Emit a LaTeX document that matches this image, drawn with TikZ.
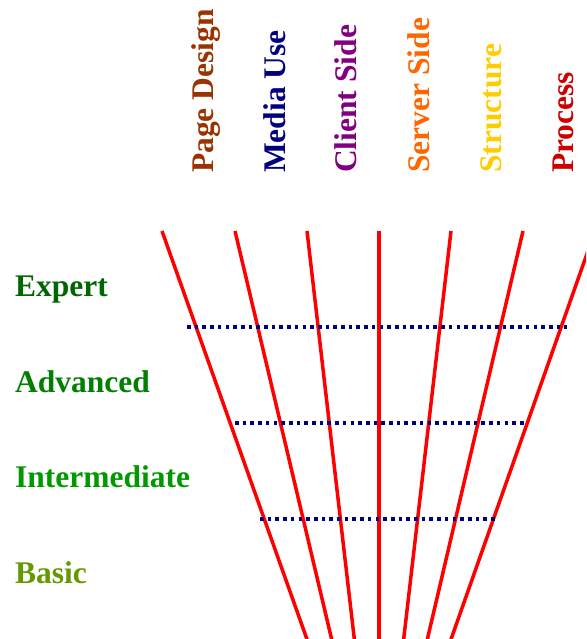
\documentclass[tikz,border=0pt]{standalone}
\usepackage{fontspec}
\setmainfont{Liberation Serif}
\definecolor{cPage}{HTML}{993300}
\definecolor{cMedia}{HTML}{000080}
\definecolor{cClient}{HTML}{800080}
\definecolor{cServer}{HTML}{FF6600}
\definecolor{cStruct}{HTML}{FFCC00}
\definecolor{cProc}{HTML}{CC0000}
\definecolor{cExpert}{HTML}{006600}
\definecolor{cAdv}{HTML}{008000}
\definecolor{cInter}{HTML}{009900}
\definecolor{cBasic}{HTML}{669900}
\definecolor{cDot}{HTML}{000080}
\begin{document}
\begin{tikzpicture}[x=1pt,y=-1pt,
  toplabel/.style={rotate=90,anchor=base west,inner sep=0pt,font=\fontsize{31.5}{31.5}\selectfont\bfseries},
  levellabel/.style={anchor=base west,inner sep=0pt,font=\fontsize{31.5}{31.5}\selectfont\bfseries},
  axisline/.style={draw=red,line width=3.5pt},
  levelline/.style={draw=cDot,line width=3.6pt,dash pattern=on 3.6pt off 4.1pt}]
\useasboundingbox (0,0) rectangle (586,639);
\clip (0,0) rectangle (586,639);
% top labels
\node[toplabel,text=cPage]   (lpage)   at (213,173) {Page Design};
\node[toplabel,text=cMedia]  (lmedia)  at (285,173) {Media Use};
\node[toplabel,text=cClient] (lclient) at (356,173) {Client Side};
\node[toplabel,text=cServer] (lserver) at (429,173) {Server Side};
\node[toplabel,text=cStruct] (lstruct) at (501,173) {Structure};
\node[toplabel,text=cProc]   (lproc)   at (573,173) {Process};
% level labels
\node[levellabel,text=cExpert] (expert) at (15,296) {Expert};
\node[levellabel,text=cAdv]    (adv)    at (15,392) {Advanced};
\node[levellabel,text=cInter]  (inter)  at (15,487) {Intermediate};
\node[levellabel,text=cBasic]  (basic)  at (15,583) {Basic};
% axis lines
\coordinate (t1) at (162,231); \coordinate (b1) at (309,645);
\coordinate (t2) at (235,231); \coordinate (b2) at (333,645);
\coordinate (t3) at (307,231); \coordinate (b3) at (355,645);
\coordinate (t4) at (379,231); \coordinate (b4) at (379,645);
\coordinate (t5) at (451,231); \coordinate (b5) at (403,645);
\coordinate (t6) at (523,231); \coordinate (b6) at (426,645);
\coordinate (t7) at (595,231); \coordinate (b7) at (449,645);
\foreach \i in {1,...,7} { \draw[axisline] (t\i) -- (b\i); }
% level lines
\coordinate (d1a) at (187,327); \coordinate (d1b) at (567,327);
\coordinate (d2a) at (235,423); \coordinate (d2b) at (524,423);
\coordinate (d3a) at (260,519); \coordinate (d3b) at (498,519);
\draw[levelline] (d1a) -- (d1b);
\draw[levelline] (d2a) -- (d2b);
\draw[levelline] (d3a) -- (d3b);
\end{tikzpicture}
\end{document}
